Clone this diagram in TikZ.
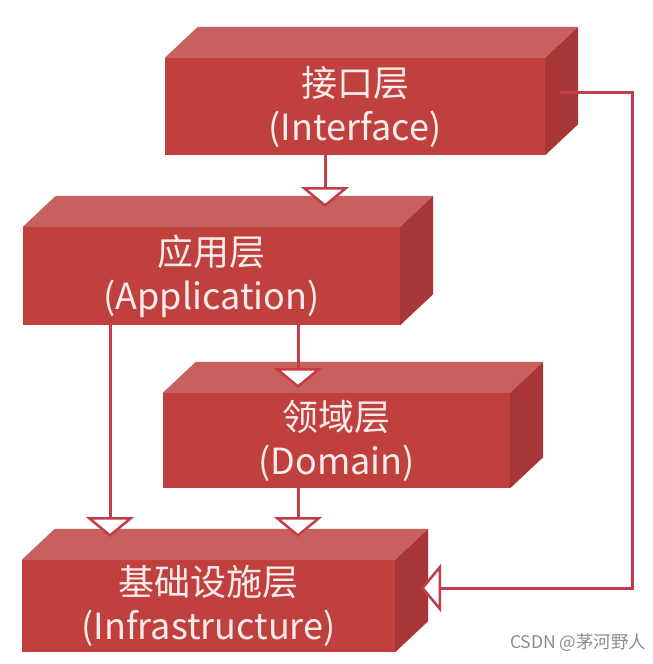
\documentclass[tikz,border=0pt]{standalone}
\usepackage{fontspec}
\newfontfamily\cjk{Noto Sans CJK SC}
\usetikzlibrary{arrows.meta}
\definecolor{frontred}{RGB}{192,64,62}
\definecolor{topred}{RGB}{200,96,94}
\definecolor{sidered}{RGB}{168,54,54}
\definecolor{linered}{RGB}{196,60,72}
\definecolor{textwhite}{RGB}{250,236,236}
\newcommand\layerfaces[1]{%
  \fill[topred] (#1.north west) -- ++(33,-31) -- ([shift={(33,-31)}]#1.north east) -- (#1.north east) -- cycle;
  \fill[sidered] (#1.north east) -- ++(33,-31) -- ([shift={(33,-31)}]#1.south east) -- (#1.south east) -- cycle;
}
\tikzset{
  layer/.style={fill=frontred, draw=none, inner sep=0pt, align=center,
    text=textwhite, font=\cjk\fontsize{36}{44}\selectfont},
  conn/.style={draw=linered, line width=3pt},
  opentip/.style={conn, -{Triangle[fill=white, width=48pt, length=20pt, line width=2.5pt]}},
}
\begin{document}
\begin{tikzpicture}[x=1pt, y=-1pt]
\useasboundingbox (0,0) rectangle (653,664);
% boxes (front faces)
\node[layer, minimum width=380pt, minimum height=97pt] (if) at (355,106.5) {接口层\\(Interface)};
\layerfaces{if}
\node[layer, minimum width=377pt, minimum height=98pt] (app) at (211.5,276) {应用层\\(Application)};
\layerfaces{app}
\node[layer, minimum width=347pt, minimum height=95pt] (dom) at (336.5,440.5) {领域层\\(Domain)};
\layerfaces{dom}
\node[layer, minimum width=373pt, minimum height=92pt] (inf) at (208.5,606) {基础设施层\\(Infrastructure)};
\layerfaces{inf}
% connector end points
\coordinate (t1) at (325,207);
\coordinate (t2) at (298,388);
\coordinate (t3) at (110,537);
\coordinate (t4) at (298,537);
\coordinate (t5) at (421,588);
\coordinate (r0) at (560,92);
\coordinate (r1) at (632,92);
\coordinate (r2) at (632,588);
% connectors
\draw[opentip] (if.south -| t1) -- (t1);
\draw[opentip] (app.south -| t2) -- (t2);
\draw[opentip] (app.south -| t3) -- (t3);
\draw[opentip] (dom.south -| t4) -- (t4);
\draw[opentip] (r0) -- (r1) -- (r2) -- (t5);
% watermark
\node[font=\cjk\fontsize{17.5}{19}\selectfont, text=black!45, anchor=east] (wm) at (650,643) {CSDN @茅河野人};
\end{tikzpicture}
\end{document}
